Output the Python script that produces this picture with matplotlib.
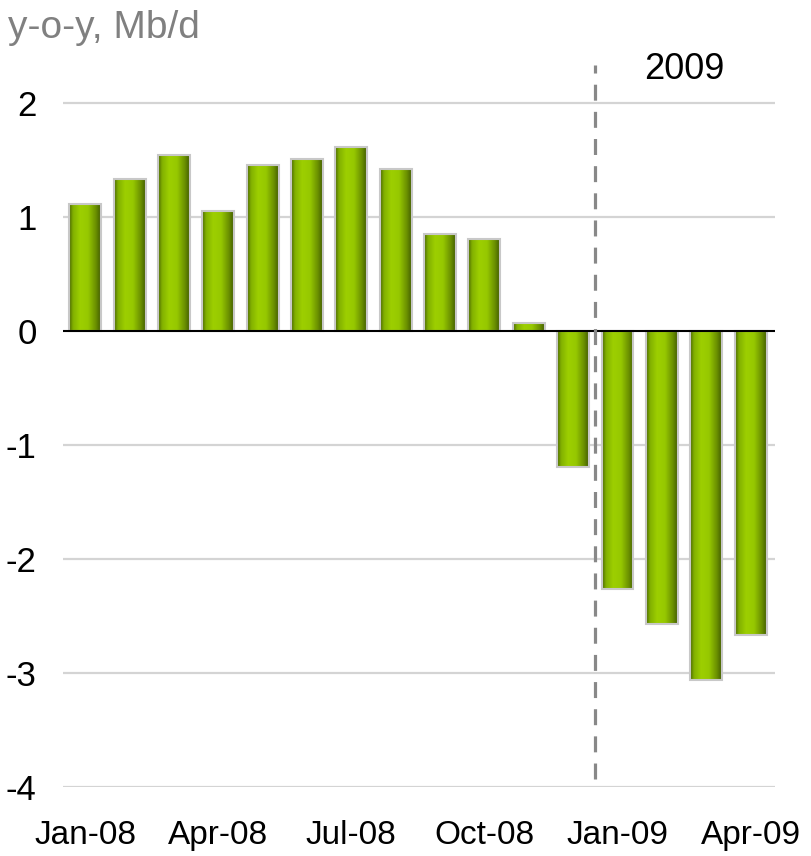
import numpy as np
import matplotlib
matplotlib.use("Agg")
import matplotlib.pyplot as plt
from matplotlib.colors import LinearSegmentedColormap

months = ["Jan-08", "Feb-08", "Mar-08", "Apr-08", "May-08", "Jun-08", "Jul-08", "Aug-08",
          "Sep-08", "Oct-08", "Nov-08", "Dec-08", "Jan-09", "Feb-09", "Mar-09", "Apr-09"]
values = [1.11, 1.33, 1.54, 1.05, 1.46, 1.51, 1.61, 1.42,
          0.85, 0.81, 0.07, -1.19, -2.26, -2.57, -3.06, -2.67]
tick_labels = ["Jan-08", "Apr-08", "Jul-08", "Oct-08", "Jan-09", "Apr-09"]
y_ticks = [-4, -3, -2, -1, 0, 1, 2]
title = "y-o-y, Mb/d"
year_label = "2009"

plt.rcParams['font.family'] = ['Liberation Sans', 'DejaVu Sans']

fig = plt.figure(figsize=(8.11, 8.56), dpi=100)
ax = fig.add_axes([63/811, 1 - 787/856, 712/811, (787 - 57.4)/856])

x = np.arange(len(values))

# gridlines
for yt in y_ticks:
    if yt != 0:
        ax.axhline(yt, color='#d4d4d4', lw=1.6, zorder=0)

cmap = LinearSegmentedColormap.from_list(
    "bar", [(0.0, '#4a6600'), (0.12, '#82b000'), (0.35, '#9dcf00'),
            (0.6, '#96c800'), (0.85, '#6a8f00'), (1.0, '#435e00')])
grad = np.linspace(0, 1, 64).reshape(1, -1)

width = 0.72
bars = ax.bar(x, values, width=width, facecolor='none', edgecolor='#c8c8c8',
              linewidth=1.5, zorder=3)
for b in bars:
    x0 = b.get_x()
    y0 = b.get_y()
    h = b.get_height()
    im = ax.imshow(grad, cmap=cmap, aspect='auto',
                   extent=[x0, x0 + b.get_width(), min(y0, y0 + h), max(y0, y0 + h)],
                   zorder=2, interpolation='bicubic')
    im.set_clip_path(b)

ax.set_xlim(-0.5, len(values) - 0.45)
ax.set_ylim(-4, 2.4)

ax.axhline(0, color='black', lw=1.5, zorder=4)

# dashed separator
ax.plot([11.5, 11.5], [-3.93, 2.33], color='#888888', lw=2.3,
        dashes=(5, 3.5), zorder=5, clip_on=False)
ax.text(13.5, 2.29, year_label, ha='center', va='center', fontsize=26, color='black')

for s in ax.spines.values():
    s.set_visible(False)

ax.set_yticks(y_ticks)
ax.set_yticklabels([str(v) for v in y_ticks], fontsize=25)
ax.set_xticks([months.index(t) for t in tick_labels])
ax.set_xticklabels(tick_labels, fontsize=24)
ax.tick_params(axis='y', length=0, pad=19)
ax.tick_params(axis='x', length=0, pad=24)

fig.text(8/811, 1 - 28/856, title, ha='left', va='center', fontsize=28, color='#808080')

fig.savefig("out.png", dpi=100)
